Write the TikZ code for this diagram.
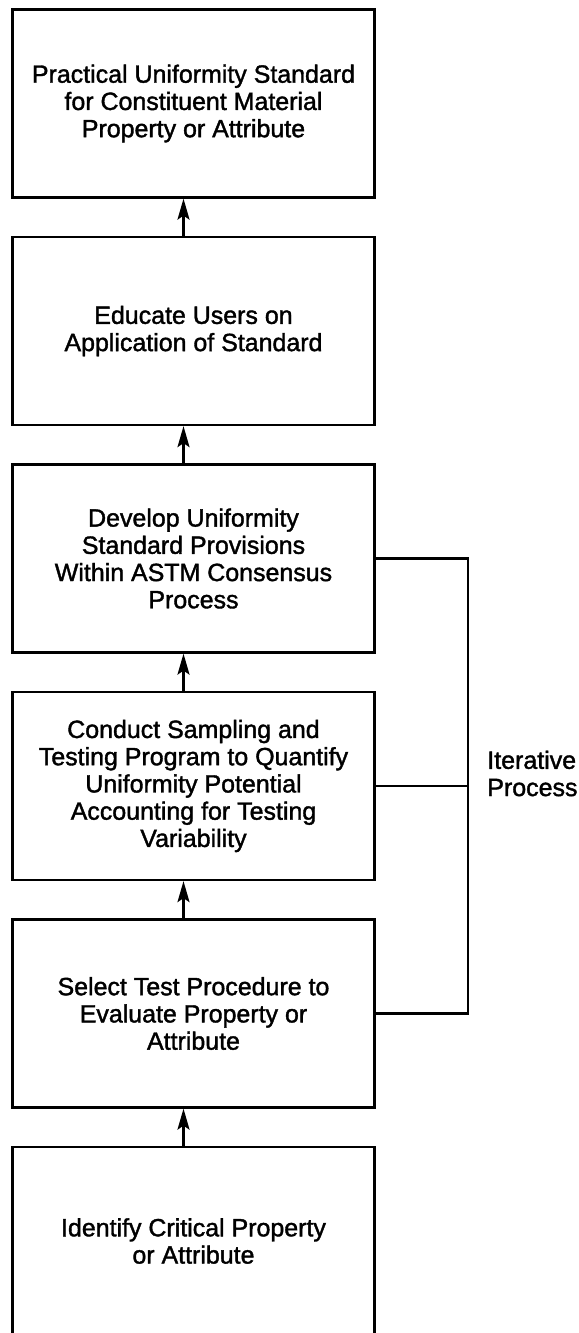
\documentclass[tikz,border=0pt]{standalone}
\usepackage{fontspec}
\setmainfont{Liberation Sans}
\newfontfamily\boxfont{Liberation Sans}[FakeBold=1.5]
\usetikzlibrary{arrows.meta,positioning,calc}

\begin{document}
\begin{tikzpicture}[
    >={Stealth[length=0.42cm,width=0.24cm,inset=0.08cm]},
    font=\boxfont\fontsize{14.2}{15.5}\selectfont,
    box/.style={
        draw=black,
        line width=1.3pt,
        minimum width=7.24cm,
        minimum height=3.76cm,
        align=center,
        inner sep=2pt
    },
    arr/.style={->, line width=1.2pt},
    iter/.style={line width=1.2pt}
]
\useasboundingbox (0,0) rectangle (11.58,-26.66);

\node[box] (standard) at (3.87,-2.07)
{Practical Uniformity Standard\\
for Constituent Material\\
Property or Attribute};

\node[box] (educate) at (3.87,-6.62)
{Educate Users on\\
Application of Standard};

\node[box] (develop) at (3.87,-11.17)
{Develop Uniformity\\
Standard Provisions\\
Within ASTM Consensus\\
Process};

\node[box] (conduct) at (3.87,-15.72)
{Conduct Sampling and\\
Testing Program to Quantify\\
Uniformity Potential\\
Accounting for Testing\\
Variability};

\node[box] (select) at (3.87,-20.27)
{Select Test Procedure to\\
Evaluate Property or\\
Attribute};

\node[box] (identify) at (3.87,-24.82)
{Identify Critical Property\\
or Attribute};

\draw[arr] ([xshift=-0.2cm]identify.north) -- ([xshift=-0.2cm]select.south);
\draw[arr] ([xshift=-0.2cm]select.north) -- ([xshift=-0.2cm]conduct.south);
\draw[arr] ([xshift=-0.2cm]conduct.north) -- ([xshift=-0.2cm]develop.south);
\draw[arr] ([xshift=-0.2cm]develop.north) -- ([xshift=-0.2cm]educate.south);
\draw[arr] ([xshift=-0.2cm]educate.north) -- ([xshift=-0.2cm]standard.south);

% iteration loop on the right
\coordinate (rail) at (9.36,0);
\draw[iter] (develop.east) -- (develop.east -| rail) |- (select.east);
\draw[iter] (conduct.east) -- (conduct.east -| rail);

\node[anchor=west, align=left, inner sep=0pt] (iterlabel) at (9.74,-15.47)
{Iterative\\
Process};

\end{tikzpicture}
\end{document}
